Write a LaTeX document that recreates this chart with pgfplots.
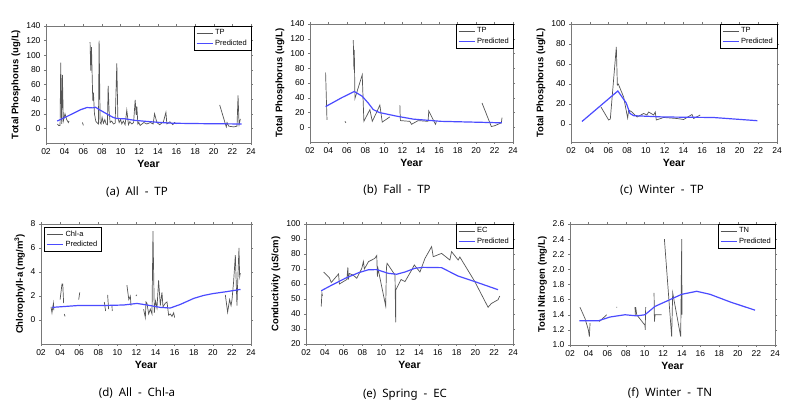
\documentclass[border=0pt]{standalone}
\usepackage{fontspec}
\setmainfont{Liberation Sans}
\newfontfamily\capfont{Noto Sans}
\usepackage{pgfplots}
\pgfplotsset{compat=1.18}

\definecolor{obsgray}{RGB}{85,85,85}
\definecolor{predblue}{RGB}{75,75,255}
\definecolor{framegray}{RGB}{120,120,120}

\pgfplotsset{
  panel/.style={
    scale only axis, anchor=south west,
    xmin=2, xmax=24, xtick={2,4,...,24},
    xticklabels={02,04,06,08,10,12,14,16,18,20,22,24},
    axis line style={framegray, line width=0.5pt},
    tick style={framegray, line width=0.4pt},
    tick align=outside, major tick length=2pt,
    tick label style={font=\fontsize{8.5}{9.5}\selectfont},
    /pgf/number format/assume math mode=true,
    xlabel={Year},
    xlabel style={font=\bfseries\fontsize{10.5}{12}\selectfont, yshift=1pt},
    ylabel style={font=\bfseries\fontsize{9.5}{11}\selectfont, yshift=-1pt},
    unbounded coords=jump,
    legend cell align=left,
    legend style={font=\fontsize{7.5}{8.5}\selectfont, draw=black, line width=0.4pt,
      inner xsep=2pt, inner ysep=1.5pt, row sep=-0.5pt, at={(1,1)}, anchor=north east},
    legend image code/.code={\draw[#1] (0pt,0pt) -- (16pt,0pt);},
  },
  obs/.style={obsgray, line width=0.7pt, no markers},
  pred/.style={predblue, line width=1.2pt, no markers},
}

\begin{document}
\begin{tikzpicture}
\useasboundingbox (0,0) rectangle (796pt,412pt);

% ---------- (a) All - TP ----------
\begin{axis}[panel, at={(46pt,269pt)}, width=205pt, height=117pt,
  ymin=-20, ymax=140, ytick={0,20,...,140},
  ylabel={Total Phosphorus (ug/L)}]
\addplot[obs] coordinates {
 (3.22,6) (3.35,4) (3.51,4) (3.58,90) (3.68,6) (3.76,73) (3.86,10) (4.04,20) (4.22,12) (4.40,8) (4.47,10)
 (4.5,nan)
 (5.91,8) (6.01,4)
 (6.5,nan)
 (6.73,118) (6.80,79) (6.88,111) (7.02,38) (7.09,49) (7.20,20) (7.34,10) (7.45,8) (7.63,6) (7.70,120)
 (7.81,8) (7.91,6) (8.02,15) (8.16,7) (8.31,12) (8.45,6) (8.59,5) (8.67,58) (8.77,24) (8.88,8) (9.05,10)
 (9.24,6) (9.42,7) (9.60,89) (9.71,15) (9.85,8) (10.0,12) (10.14,6) (10.3,10) (10.49,5) (10.67,25)
 (10.85,5) (11.0,9) (11.21,6) (11.4,8) (11.57,39) (11.68,18) (11.75,30) (11.86,6) (11.96,8) (12.1,4)
 (12.5,8) (12.82,6) (13.2,8) (13.5,6) (13.65,20) (13.9,8) (14.2,5) (14.6,9) (14.87,22) (14.97,6)
 (15.3,9) (15.6,5) (15.8,8) (15.98,6)
 (18,nan)
 (20.64,32) (21.25,6) (21.35,2) (21.43,8) (21.61,3) (22.15,2) (22.50,3) (22.61,45) (22.72,5) (22.86,13)
};
\addlegendentry{TP}
\addplot[pred] coordinates {
 (3.2,10) (4.2,16) (5.0,21) (5.7,25.5) (6.4,28.5) (7.0,28) (7.3,29) (7.8,25) (8.5,20) (9.2,15)
 (9.6,13.5) (10.5,13) (11.5,11) (12.8,9.5) (14.3,8) (15.7,7) (18.5,6.5) (23,6)
};
\addlegendentry{Predicted}
\end{axis}

% ---------- (b) Fall - TP ----------
\begin{axis}[panel, at={(310pt,270pt)}, width=203pt, height=118pt,
  ymin=-20, ymax=140, ytick={0,20,...,140},
  ylabel={Total Phosphorus (ug/L)}]
\addplot[obs] coordinates {
 (3.69,74) (3.84,10)
 (4.5,nan)
 (5.79,8) (5.89,6)
 (6.3,nan)
 (6.69,118) (6.76,78) (6.80,105) (6.87,39) (6.94,42) (7.66,71) (7.84,8) (8.49,24) (8.75,8)
 (9.21,20) (9.57,30) (9.83,7) (10.65,14)
 (11,nan)
 (11.74,30) (11.76,20) (11.80,9) (12.82,8) (13.0,4) (13.72,9) (14.80,8) (14.87,22) (15.6,4) (15.7,8)
 (18,nan)
 (20.64,33) (21.65,1) (22.01,2) (22.74,6) (22.81,13)
};
\addlegendentry{TP}
\addplot[pred] coordinates {
 (3.69,28) (5.43,40) (6.80,48.5) (7.66,42) (8.3,33) (8.85,24) (9.5,20) (11.4,15) (13.2,11)
 (16.2,8) (19.5,7) (22.8,6)
};
\addlegendentry{Predicted}
\end{axis}

% ---------- (c) Winter - TP ----------
\begin{axis}[panel, at={(571pt,270pt)}, width=206pt, height=118pt,
  ymin=-18, ymax=100, ytick={0,20,...,100},
  ylabel={Total Phosphorus (ug/L)}]
\addplot[obs] coordinates {
 (5.2,17) (6.02,4) (6.2,5) (6.84,77) (6.95,39) (7.05,40) (7.62,27) (8.05,6) (8.16,14) (8.51,12)
 (9.05,7) (9.76,10.5) (10.11,9) (10.29,12) (10.83,9) (11.0,12) (11.11,4) (11.89,6.5) (13.32,5.5)
 (14.03,4.5) (14.92,9.5) (15.1,5.5) (15.8,9)
};
\addlegendentry{TP}
\addplot[pred] coordinates {
 (3.17,2.5) (7.0,33) (7.9,21) (8.3,10.5) (8.7,8.3) (11.9,7) (17.2,6.5) (21.9,3.3)
};
\addlegendentry{Predicted}
\end{axis}

% ---------- (d) All - Chl-a ----------
\begin{axis}[panel, at={(41pt,68pt)}, width=210pt, height=120pt,
  ymin=-2, ymax=8, ytick={0,2,...,8},
  ylabel={Chlorophyll-a (mg/m\textsuperscript{3})},
  legend style={at={(0.015,0.975)}, anchor=north west}]
\addplot[obs] coordinates {
 (3.05,1.1) (3.15,0.6) (3.3,1.4) (3.35,0.8)
 (3.6,nan)
 (4.0,1.7) (4.2,3.0) (4.28,3.0) (4.37,1.4)
 (4.4,nan)
 (4.44,0.5) (4.52,0.3)
 (5,nan)
 (5.95,1.7) (6.06,2.3)
 (7,nan)
 (8.63,1.5) (8.77,0.75)
 (8.9,nan)
 (8.98,2.1) (9.08,0.9)
 (9.3,nan)
 (9.44,1.2) (9.46,0.75)
 (10,nan)
 (11.0,2.9) (11.2,1.7) (11.36,2.0) (11.43,1.2)
 (11.6,nan)
 (11.95,2.0) (12.03,2.1)
 (12.4,nan)
 (12.75,0.9) (12.93,0.2) (13.0,1.5) (13.1,1.4) (13.28,0.5) (13.45,0.9) (13.63,0.5) (13.73,7.4)
 (13.87,0.6) (14.0,1.6) (14.15,1.0) (14.32,3.3) (14.5,1.2) (14.67,2.3) (14.78,1.1) (15.02,1.4)
 (15.2,1.5) (15.37,0.4) (15.55,0.5) (15.72,0.3) (15.9,0.6) (16.0,0.2)
 (18,nan)
 (21.31,2.1) (21.55,0.65) (21.76,1.7) (21.91,1.2) (22.01,1.7) (22.18,3.2) (22.36,5.4) (22.53,1.2)
 (22.6,3.0) (22.74,6.0) (22.81,3.6) (22.88,3.9)
};
\addlegendentry{Chl-a}
\addplot[pred] coordinates {
 (3.15,1.05) (5.77,1.2) (8.22,1.2) (10.66,1.25) (12.06,1.38) (13.1,1.25) (14.5,1.05) (15.55,1.0)
 (16.6,1.3) (18.0,1.8) (19.0,2.04) (20.0,2.2) (21.5,2.37) (22.9,2.55)
};
\addlegendentry{Predicted}
\end{axis}

% ---------- (e) Spring - EC ----------
\begin{axis}[panel, at={(306pt,68pt)}, width=207pt, height=120pt,
  ymin=20, ymax=100, ytick={20,30,...,100},
  ylabel={Conductivity (uS/cm)}]
\addplot[obs] coordinates {
 (3.62,45) (3.69,54) (3.75,52)
 (3.8,nan)
 (3.87,68) (4.5,64) (4.68,61) (5.46,66.7) (5.55,60) (6.34,63) (6.45,71) (6.5,63) (6.6,67) (7.0,66)
 (7.4,63.8) (7.93,70.4) (8.1,75) (8.2,70) (8.64,74.9) (9.3,77) (9.52,79) (9.59,64.9) (9.65,70.4)
 (10.47,45.3) (10.55,71) (10.62,73.8) (11.46,66) (11.53,34.5) (11.55,56) (12.1,63) (12.52,61.6)
 (13.23,69.3) (13.51,72.7) (14.11,68) (14.64,77) (15.35,84.9) (15.52,78.2) (16.41,80.4) (17.29,76)
 (17.47,81.6) (18.17,76) (18.35,78) (19.94,61.6) (21.35,44.5) (21.7,47) (22.41,49.5) (22.59,52)
};
\addlegendentry{EC}
\addplot[pred] coordinates {
 (3.62,55.5) (4.75,59.3) (6.17,63.8) (7.58,67.5) (8.64,69.5) (9.5,69.6) (10.76,67.1) (11.64,66.5)
 (12.52,68) (13.58,70.5) (14.46,71.1) (16.41,70.9) (17.47,67.5) (18.17,65.3) (19.94,61.6) (22.41,56.2)
};
\addlegendentry{Predicted}
\end{axis}

% ---------- (f) Winter - TN ----------
\begin{axis}[panel, at={(570pt,67pt)}, width=205pt, height=121pt,
  ymin=1.0, ymax=2.6, ytick={1.0,1.2,...,2.61},
  yticklabel style={/pgf/number format/.cd, fixed, fixed zerofill, precision=1},
  ylabel={Total Nitrogen (mg/L)}]
\addplot[obs] coordinates {
 (3.07,1.5) (3.61,1.35) (3.97,1.2) (4.08,1.11) (4.15,1.29)
 (4.5,nan)
 (5.15,1.31) (5.94,1.40)
 (6.5,nan)
 (6.98,1.5) (7.06,1.5)
 (8,nan)
 (8.98,1.5) (9.0,1.4) (9.05,1.5) (9.16,1.40) (10.05,1.26) (10.07,1.2) (10.12,1.5)
 (10.5,nan)
 (11.02,1.69) (11.06,1.31) (11.13,1.40) (11.84,1.40)
 (12,nan)
 (12.13,2.40) (12.91,1.11) (13.02,1.69) (13.88,1.11) (13.99,2.40) (14.02,1.40)
};
\addlegendentry{TN}
\addplot[pred] coordinates {
 (3.0,1.32) (5.04,1.32) (6.29,1.37) (7.9,1.40) (9.16,1.385) (10.05,1.40) (11.12,1.51) (13.09,1.62)
 (13.98,1.67) (15.6,1.71) (17.03,1.67) (19.17,1.57) (21.86,1.46)
};
\addlegendentry{Predicted}
\end{axis}

% ---------- panel captions ----------
\begin{scope}[every node/.style={font=\capfont\fontsize{11.5}{13}\selectfont}]
\node at (137pt,220pt) {(a)\ \ All\ \ -\ \ TP};
\node at (397pt,222pt) {(b)\ \ Fall\ \ -\ \ TP};
\node at (662pt,222pt) {(c)\ \ Winter\ \ -\ \ TP};
\node at (137pt,19pt) {(d)\ \ All\ \ -\ \ Chl-a};
\node at (405pt,17pt) {(e)\ \ Spring\ \ -\ \ EC};
\node at (670pt,19pt) {(f)\ \ Winter\ \ -\ \ TN};
\end{scope}
\end{tikzpicture}
\end{document}
